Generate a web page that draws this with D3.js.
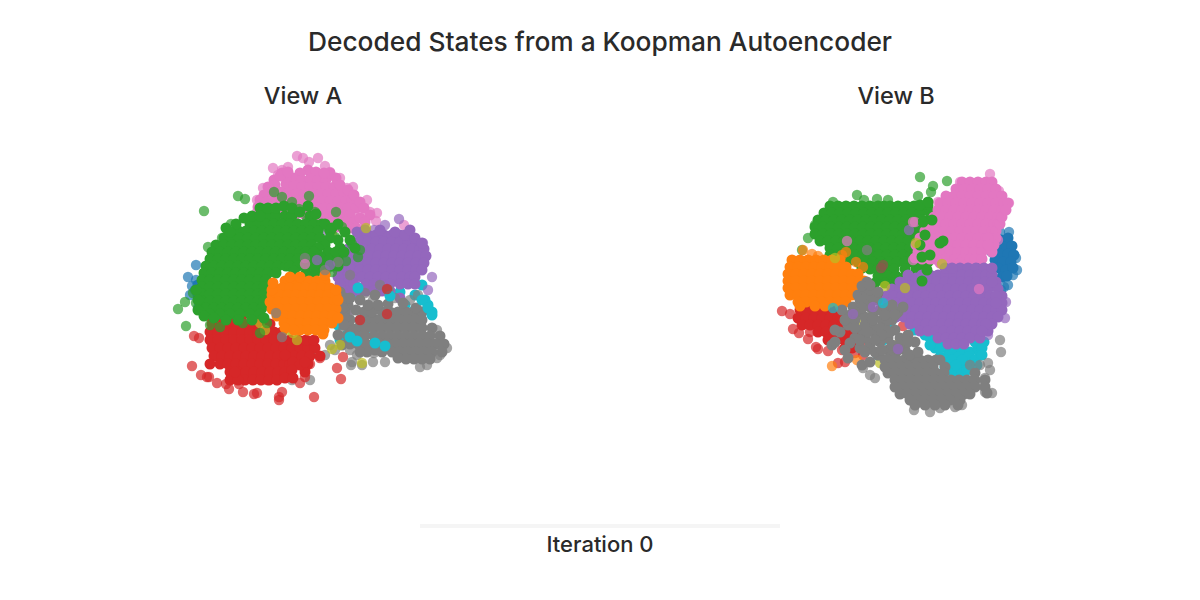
<!DOCTYPE html>
<html>
<head>
<meta charset="utf-8">
<script src="https://cdn.jsdelivr.net/npm/d3@7"></script>
<style>
  html, body { margin: 0; background: #fff; }
  text { font-family: Inter, sans-serif; font-weight: 500; fill: #2a2a2a; text-anchor: middle; }
</style>
</head>
<body>
<svg id="chart" width="1200" height="600"></svg>
<script>
// decoded states, values. "core" = dense part of a cluster, "edge" = loose points
const pinkCoreA = [[148,30],[156,32],[140,33],[133,38],[142,40],[150,39],[158,40],[166,40],[126,44],[134,46],[142,47],[150,47],[158,47],[166,47],[174,47],[120,52],[128,53],[136,54],[144,54],[152,54],[160,54],[168,54],[176,54],[184,54],[114,60],[122,60],[130,60],[138,61],[146,61],[154,61],[162,61],[170,61],[178,61],[186,61],[192,60],[108,67],[116,67],[124,67],[132,68],[140,68],[148,68],[156,68],[164,68],[172,68],[180,68],[188,68],[196,68],[150,75],[158,75],[166,75],[174,75],[182,75],[190,75],[170,82],[178,82],[186,82],[194,82],[174,88],[182,88],[190,88],[122,33],[114,40],[126,37],[115,45],[108,47],[112,52],[104,55],[100,60],[106,62],[98,67],[176,38],[170,33],[120,36],[128,32],[164,33],[180,45],[188,50],[194,55],[200,62],[204,68],[210,75],[200,78],[205,82],[196,88],[104,72],[112,74],[120,74],[128,74],[136,74],[144,74]];
const pinkEdgeA = [[137,16],[143,18],[158,18],[113,28],[118,35],[149,22],[170,32],[193,47],[207,60],[200,67],[210,72],[217,73],[216,81],[244,85],[103,48],[97,60],[97,72],[200,75],[107,55],[187,48],[122,30],[165,26],[180,38],[128,27],[100,66]];
const greenCoreA = [[108,76],[116,76],[125,76],[132,76],[150,76],[90,84],[98,84],[106,84],[114,84],[122,84],[130,84],[138,84],[146,84],[154,84],[162,84],[78,91],[86,91],[94,91],[102,91],[110,91],[118,91],[126,91],[134,91],[142,91],[150,91],[158,91],[170,91],[64,98],[72,98],[80,98],[88,98],[96,98],[104,98],[112,98],[120,98],[128,98],[136,98],[144,98],[152,98],[160,98],[56,105],[64,105],[72,105],[80,105],[88,105],[96,105],[104,105],[112,105],[120,105],[128,105],[136,105],[144,105],[152,105],[52,112],[60,112],[68,112],[76,112],[84,112],[92,112],[100,112],[108,112],[116,112],[124,112],[132,112],[140,112],[50,119],[58,119],[66,119],[74,119],[82,119],[90,119],[98,119],[106,119],[114,119],[122,119],[130,119],[46,126],[54,126],[62,126],[70,126],[78,126],[86,126],[94,126],[102,126],[110,126],[118,126],[126,126],[44,133],[52,133],[60,133],[68,133],[76,133],[84,133],[92,133],[100,133],[108,133],[116,133],[42,140],[50,140],[58,140],[66,140],[74,140],[82,140],[90,140],[98,140],[106,140],[42,147],[50,147],[58,147],[66,147],[74,147],[82,147],[90,147],[98,147],[104,147],[42,154],[50,154],[58,154],[66,154],[74,154],[82,154],[90,154],[98,154],[104,154],[42,161],[50,161],[58,161],[66,161],[74,161],[82,161],[90,161],[98,161],[104,161],[46,168],[54,168],[62,168],[70,168],[78,168],[86,168],[94,168],[102,168],[50,174],[60,174],[70,174],[80,174],[90,174],[100,174],[100,68],[108,68],[116,68],[124,66],[132,68],[140,72],[148,66],[156,74],[92,76],[100,76],[84,78],[76,84],[66,88],[70,92],[165,84],[172,88],[178,84],[185,92],[178,100],[170,98],[165,105],[158,108],[150,112],[190,100],[195,108],[180,108],[168,112],[148,118],[160,116],[36,150],[38,160],[38,170],[44,176],[54,178],[66,180],[78,180],[92,180],[104,178],[130,126],[138,119],[146,112],[154,112],[138,126],[146,126],[154,119],[162,119],[170,119],[162,126],[154,126],[170,126],[178,119],[176,112],[184,112],[134,131],[146,133],[155,133],[165,133],[172,126],[178,126]];
const greenEdgeA = [[78,56],[85,59],[44,71],[71,84],[79,91],[91,86],[48,107],[18,169],[25,162],[26,186],[36,163],[33,153],[114,52],[122,57],[132,62],[149,56],[176,72],[155,72],[139,69],[105,69],[98,77],[147,80],[157,87],[167,87],[182,87],[175,97],[192,104],[200,110],[198,117],[186,121],[172,132],[157,120],[140,117],[62,98],[68,97],[55,115],[50,185],[60,187],[100,193],[107,183],[83,183]];
const blueCoreA = [[38,145],[38,155],[40,165]];
const blueEdgeA = [[36,125],[28,137],[36,140],[32,146],[40,160],[38,168],[30,155],[88,92],[35,150]];
const orangeCoreA = [[125,141],[133,141],[141,141],[149,141],[157,141],[165,141],[114,148],[122,148],[130,148],[138,148],[146,148],[154,148],[162,148],[170,148],[112,155],[120,155],[128,155],[136,155],[144,155],[152,155],[160,155],[168,155],[176,155],[110,162],[118,162],[126,162],[134,162],[142,162],[150,162],[158,162],[166,162],[174,162],[112,169],[120,169],[128,169],[136,169],[144,169],[152,169],[160,169],[168,169],[176,169],[117,176],[125,176],[133,176],[141,176],[149,176],[157,176],[165,176],[173,176],[124,183],[132,183],[140,183],[148,183],[156,183],[164,183],[172,183],[140,190],[148,190],[156,190],[164,190],[112,150],[113,143],[178,160],[176,150],[165,135],[140,137],[130,137],[178,178],[163,194],[125,188],[134,190]];
const purpleCoreA = [[200,95],[208,95],[216,95],[224,95],[232,95],[240,95],[192,102],[200,102],[208,102],[216,102],[224,102],[232,102],[240,102],[248,102],[256,102],[188,109],[196,109],[204,109],[212,109],[220,109],[228,109],[236,109],[244,109],[252,109],[260,109],[264,109],[186,116],[194,116],[202,116],[210,116],[218,116],[226,116],[234,116],[242,116],[250,116],[258,116],[266,116],[184,123],[192,123],[200,123],[208,123],[216,123],[224,123],[232,123],[240,123],[248,123],[256,123],[264,123],[184,130],[192,130],[200,130],[208,130],[216,130],[224,130],[232,130],[240,130],[248,130],[256,130],[262,130],[186,137],[194,137],[202,137],[210,137],[218,137],[226,137],[234,137],[242,137],[250,137],[255,137],[206,144],[214,144],[222,144],[230,144],[190,151],[206,151],[214,151],[230,151],[186,144],[194,144],[240,144],[248,144],[255,144],[186,151],[198,151],[222,151],[240,158],[197,92],[205,90],[235,92],[245,95],[255,98],[262,103],[250,90],[220,90],[178,130],[178,137],[180,144],[182,151],[178,116]];
const purpleEdgeA = [[239,79],[225,85],[250,100],[263,103],[272,137],[268,150],[214,90],[165,90],[190,170],[236,183],[178,125],[172,118]];
const cyanCoreA = [[197,147],[210,148],[230,155],[240,152],[255,155],[265,160],[272,172],[268,165],[262,172],[187,195],[195,200],[215,202],[225,205],[180,200],[178,185],[183,178],[205,195],[255,170],[245,165],[150,215],[198,155],[262,145]];
const grayCoreA = [[222,172],[230,172],[238,172],[246,172],[254,172],[262,172],[200,180],[208,180],[216,180],[224,180],[232,180],[240,180],[248,180],[256,180],[262,180],[190,188],[198,188],[206,188],[214,188],[222,188],[230,188],[238,188],[246,188],[254,188],[262,188],[272,188],[196,196],[214,196],[222,196],[230,196],[238,196],[246,196],[254,196],[262,196],[270,196],[280,196],[220,204],[228,204],[236,204],[244,204],[252,204],[260,204],[268,204],[276,204],[284,204],[232,212],[240,212],[248,212],[256,212],[264,212],[272,212],[282,212],[246,219],[254,219],[262,219],[270,219],[180,170],[188,165],[196,170],[204,172],[212,172],[218,165],[228,164],[243,163],[256,168],[205,196],[188,196],[182,205],[190,204],[198,204],[206,204],[212,205],[238,218],[190,180],[185,172],[180,152],[185,158],[177,165],[185,178],[190,158],[200,160],[208,165],[215,155],[228,150],[178,160],[183,168],[178,175],[184,185],[178,195],[190,195],[215,210],[222,212],[207,212],[200,212]];
const grayEdgeA = [[170,205],[175,210],[190,210],[197,215],[191,225],[213,222],[225,222],[260,227],[214,213],[200,207],[185,160],[190,135],[213,160],[220,145],[205,153],[235,158],[250,160],[258,155],[190,172],[183,190],[165,215],[132,240],[150,240],[130,232],[277,190],[287,208],[280,215],[202,225],[192,222],[267,225],[277,218]];
const redCoreA = [[50,176],[60,176],[70,176],[82,176],[95,176],[52,184],[60,184],[68,184],[76,184],[84,184],[92,184],[100,184],[110,184],[50,192],[58,192],[66,192],[74,192],[82,192],[90,192],[98,192],[106,192],[114,192],[122,192],[50,200],[58,200],[66,200],[74,200],[82,200],[90,200],[98,200],[106,200],[114,200],[122,200],[130,200],[52,208],[60,208],[68,208],[76,208],[84,208],[92,208],[100,208],[108,208],[116,208],[124,208],[132,208],[140,208],[148,208],[155,208],[54,216],[62,216],[70,216],[78,216],[86,216],[94,216],[102,216],[110,216],[118,216],[126,216],[134,216],[142,216],[150,216],[160,216],[60,224],[68,224],[76,224],[84,224],[92,224],[100,224],[108,224],[116,224],[124,224],[130,224],[148,224],[70,232],[78,232],[86,232],[94,232],[102,232],[110,232],[118,232],[125,232],[145,232],[85,240],[93,240],[101,240],[109,240],[117,240],[125,215],[133,222],[140,225],[132,230],[125,238],[145,222],[70,240],[78,240],[133,238],[75,232],[50,224],[138,200],[146,200],[154,200]];
const redEdgeA = [[34,196],[39,198],[32,226],[41,235],[47,237],[49,237],[57,243],[66,244],[69,249],[79,244],[83,252],[94,254],[97,253],[119,257],[119,260],[122,252],[154,257],[140,243],[181,239],[177,228],[183,217],[200,180],[227,149],[227,174],[128,237],[117,240],[145,237],[150,224],[145,230],[160,218],[107,240]];
const oliveEdgeA = [[133,193],[128,190],[172,209],[202,223],[206,88],[172,95],[100,183],[105,190],[180,205],[137,200]];
const straysGrayA = [[122,197],[116,173],[145,118],[165,130],[178,122]];
const straysPinkA = [[145,124]];
const straysPurpleA = [[157,120],[170,125]];
const straysCyanA = [[190,197],[197,201],[215,203],[225,206],[262,160],[268,168],[272,175],[198,148],[230,156]];

const pinkCoreB = [[192,22],[200,22],[208,22],[216,22],[222,22],[186,29],[194,29],[202,29],[210,29],[218,29],[226,29],[176,36],[184,36],[192,36],[200,36],[208,36],[216,36],[224,36],[232,36],[170,43],[178,43],[186,43],[194,43],[202,43],[210,43],[218,43],[226,43],[234,43],[238,43],[168,50],[176,50],[184,50],[192,50],[200,50],[208,50],[216,50],[224,50],[232,50],[164,57],[172,57],[180,57],[188,57],[196,57],[204,57],[212,57],[220,57],[228,57],[160,64],[168,64],[176,64],[184,64],[192,64],[200,64],[208,64],[216,64],[224,64],[228,64],[158,71],[166,71],[174,71],[182,71],[190,71],[198,71],[206,71],[214,71],[222,71],[226,71],[152,78],[160,78],[168,78],[176,78],[184,78],[192,78],[200,78],[208,78],[216,78],[226,78],[148,85],[156,85],[164,85],[172,85],[180,85],[188,85],[196,85],[204,85],[212,85],[224,85],[156,92],[164,92],[172,92],[180,92],[188,92],[196,92],[204,92],[212,92],[222,92],[165,99],[175,99],[185,99],[193,99],[200,99],[158,64],[155,71],[150,78],[146,85],[148,92],[152,99],[145,98],[205,99],[212,99],[230,64],[232,57],[236,50],[160,99],[170,103],[180,105],[190,103],[218,78],[218,85]];
const pinkEdgeB = [[220,14],[229,31],[239,43],[233,45],[190,22],[150,82],[143,100],[145,62],[168,42],[228,80]];
const greenCoreB = [[60,46],[68,46],[76,46],[84,46],[92,46],[100,46],[108,46],[114,46],[120,46],[128,46],[136,46],[144,46],[152,46],[158,46],[54,53],[62,53],[70,53],[78,53],[86,53],[94,53],[102,53],[110,53],[118,53],[126,53],[134,53],[142,53],[150,53],[160,53],[48,60],[56,60],[64,60],[72,60],[80,60],[88,60],[96,60],[104,60],[112,60],[120,60],[128,60],[136,60],[144,60],[152,60],[160,60],[45,67],[53,67],[61,67],[69,67],[77,67],[85,67],[93,67],[101,67],[109,67],[117,67],[125,67],[133,67],[141,67],[149,67],[157,67],[45,74],[53,74],[61,74],[69,74],[77,74],[85,74],[93,74],[101,74],[109,74],[117,74],[125,74],[133,74],[141,74],[149,74],[155,74],[50,81],[58,81],[66,81],[74,81],[82,81],[90,81],[98,81],[106,81],[114,81],[122,81],[130,81],[138,81],[146,81],[156,81],[60,88],[68,88],[76,88],[84,88],[92,88],[100,88],[108,88],[116,88],[124,88],[132,88],[140,88],[150,88],[160,88],[60,95],[68,95],[76,95],[85,95],[93,95],[101,95],[109,95],[117,95],[125,95],[133,95],[141,95],[147,95],[155,95],[80,100],[88,102],[95,102],[103,102],[111,102],[119,102],[127,102],[135,102],[142,102],[150,102],[158,102],[92,108],[100,109],[108,109],[116,109],[124,109],[135,109],[146,109],[150,109],[108,116],[110,116],[118,116],[126,116],[135,116],[140,116],[115,123],[125,123],[135,120],[105,123],[145,118]];
const greenEdgeB = [[150,17],[163,26],[177,21],[161,32],[148,36],[87,35],[63,42],[107,39],[118,40],[94,40],[38,78],[32,90],[45,65]];
const greenTopB = [[162,60],[153,62],[173,81],[152,97],[157,110],[152,121],[170,83],[155,75],[150,85],[160,95],[150,45],[158,42]];
const orangeCoreB = [[22,100],[30,100],[38,100],[46,100],[54,100],[62,100],[70,100],[20,107],[28,107],[36,107],[44,107],[52,107],[60,107],[68,107],[76,107],[18,114],[26,114],[34,114],[42,114],[50,114],[58,114],[66,114],[74,114],[82,114],[88,114],[18,121],[26,121],[34,121],[42,121],[50,121],[58,121],[66,121],[74,121],[82,121],[90,121],[94,121],[18,128],[26,128],[34,128],[42,128],[50,128],[58,128],[66,128],[74,128],[82,128],[90,128],[20,135],[28,135],[36,135],[44,135],[52,135],[60,135],[68,135],[76,135],[82,135],[28,142],[36,142],[44,142],[52,142],[60,142],[68,142],[76,142],[30,146],[45,146],[55,146]];
const orangeEdgeB = [[33,90],[42,94],[48,96],[76,92],[72,95],[86,102],[93,107],[70,146],[62,206],[87,200]];
const redCoreB = [[30,150],[38,150],[46,150],[54,150],[62,150],[70,150],[28,158],[36,158],[44,158],[52,158],[60,158],[68,158],[75,158],[32,165],[40,165],[48,165],[56,165],[64,165],[72,165],[80,165],[48,172],[56,172],[64,172],[72,172],[80,172],[85,172],[58,180],[66,180],[74,180],[82,180],[90,180],[90,172],[75,188],[82,188],[95,170]];
const redEdgeB = [[12,151],[20,154],[23,169],[29,173],[38,179],[46,187],[48,189],[58,191],[68,203],[72,190],[85,193],[93,195],[93,185],[133,166],[75,202],[40,172]];
const blueCoreB = [[231,80],[238,78],[226,86],[234,87],[242,86],[222,92],[230,94],[238,94],[244,95],[225,100],[233,102],[241,102],[228,108],[236,110],[243,108],[232,117],[237,116],[210,103]];
const blueEdgeB = [[239,72],[230,72],[246,98],[247,110],[238,125],[234,127],[243,115],[231,130]];
const purpleCoreB = [[190,108],[198,108],[206,108],[214,108],[160,115],[168,115],[176,115],[184,115],[192,115],[200,115],[208,115],[216,115],[222,115],[135,122],[143,122],[151,122],[159,122],[167,122],[175,122],[183,122],[191,122],[199,122],[207,122],[215,122],[226,122],[122,129],[130,129],[138,129],[146,129],[154,129],[162,129],[170,129],[178,129],[186,129],[194,129],[202,129],[210,129],[218,129],[228,129],[116,136],[124,136],[132,136],[140,136],[148,136],[156,136],[164,136],[172,136],[180,136],[188,136],[196,136],[204,136],[212,136],[220,136],[232,136],[118,143],[126,143],[134,143],[142,143],[150,143],[158,143],[166,143],[174,143],[182,143],[190,143],[198,143],[206,143],[214,143],[222,143],[232,143],[122,150],[130,150],[138,150],[146,150],[154,150],[162,150],[170,150],[178,150],[186,150],[194,150],[202,150],[210,150],[218,150],[226,150],[232,150],[126,157],[134,157],[142,157],[150,157],[158,157],[166,157],[174,157],[182,157],[190,157],[198,157],[206,157],[214,157],[222,157],[228,157],[140,164],[148,164],[156,164],[164,164],[172,164],[180,164],[188,164],[196,164],[204,164],[212,164],[222,164],[150,171],[158,171],[166,171],[174,171],[182,171],[190,171],[198,171],[206,171],[218,171],[168,178],[176,178],[184,178],[192,178],[200,178],[210,178],[178,184],[186,184],[194,184],[130,122],[138,115],[146,118],[152,115],[175,108],[182,108],[222,108],[226,136],[226,143],[222,122],[216,164],[212,171]];
const purpleEdgeB = [[235,158],[218,175],[236,142]];
const cyanCoreB = [[160,178],[168,180],[176,188],[184,192],[192,192],[200,192],[208,188],[214,182],[210,195],[200,200],[190,203],[180,205],[170,197],[165,188],[178,196],[188,197],[198,197],[205,200],[185,210],[195,205],[155,175],[175,207],[183,212],[192,212],[200,208],[115,143],[62,147],[85,150],[108,195],[113,180],[80,157],[145,170],[120,165],[170,188],[175,180],[160,185],[205,182],[212,188],[212,195],[207,205],[176,200],[182,200],[192,200],[186,205],[197,210]];
const grayCoreB = [[88,135],[95,130],[90,140],[83,147],[95,140],[102,137],[100,147],[90,152],[80,155],[72,150],[78,165],[85,160],[95,157],[103,155],[110,150],[117,148],[122,145],[107,140],[112,160],[102,165],[92,170],[85,178],[95,178],[105,172],[115,168],[122,160],[128,152],[133,147],[125,170],[118,178],[110,182],[100,185],[90,188],[80,183],[70,172],[65,170],[62,185],[75,190],[65,182],[78,198],[92,205],[100,202],[108,195],[118,190],[130,178],[138,175],[145,182],[135,190],[125,195],[115,200],[118,200],[126,200],[134,200],[142,200],[150,200],[158,200],[166,200],[170,200],[115,207],[123,207],[131,207],[139,207],[147,207],[155,207],[163,207],[175,207],[118,213],[126,213],[134,213],[142,213],[150,213],[158,213],[166,213],[174,213],[205,213],[125,220],[133,220],[141,220],[149,220],[157,220],[165,220],[173,220],[181,220],[189,220],[197,220],[205,220],[215,220],[125,227],[133,227],[141,227],[149,227],[157,227],[165,227],[173,227],[181,227],[189,227],[197,227],[205,227],[215,227],[130,234],[138,234],[146,234],[154,234],[162,234],[170,234],[178,234],[186,234],[194,234],[200,234],[217,233],[140,240],[148,240],[156,240],[164,240],[172,240],[180,240],[190,240],[145,245],[155,245],[165,245],[175,245],[188,245],[100,130],[108,132],[92,148],[85,152],[75,160],[85,168],[95,165],[103,160],[110,168],[118,160],[125,155],[115,155],[120,172],[112,175],[105,180],[98,172],[90,180],[95,192],[105,192],[112,190],[122,185],[130,185],[138,182],[128,190],[140,195],[148,192],[97,122],[92,126],[100,125]];
const grayEdgeB = [[200,205],[210,205],[218,203],[220,210],[215,218],[210,225],[222,233],[215,232],[230,180],[231,192],[170,248],[144,250],[160,252],[185,247],[192,245],[97,90],[105,218],[93,208],[100,215]];
const oliveEdgeB = [[172,104],[115,126],[75,160],[88,162],[129,183],[110,203],[65,98],[146,83],[135,128]];
const brownEdgeB = [[113,105],[111,108],[108,133]];
const straysPurpleB = [[83,154],[103,147],[139,70],[128,189]];
const straysCyanB = [[113,143],[63,148]];
const straysPinkB = [[77,81],[209,129],[143,62]];

const clusterColors = { blue: "#1f77b4", orange: "#ff7f0e", green: "#2ca02c", red: "#d62728", purple: "#9467bd", brown: "#8c564b", pink: "#e377c2", gray: "#7f7f7f", olive: "#bcbd22", cyan: "#17becf" };

// draw order per view: [color, edge points, core points]
const layersA = [
  ["blue", blueEdgeA, blueCoreA],
  ["pink", pinkEdgeA, pinkCoreA],
  ["cyan", [], cyanCoreA],
  ["purple", purpleEdgeA, purpleCoreA],
  ["gray", grayEdgeA, grayCoreA],
  ["cyan", [], straysCyanA],
  ["red", redEdgeA, redCoreA],
  ["olive", oliveEdgeA, []],
  ["green", greenEdgeA, greenCoreA],
  ["orange", [], orangeCoreA],
  ["gray", straysGrayA, []],
  ["pink", straysPinkA, []],
  ["purple", straysPurpleA, []],
];
const layersB = [
  ["blue", blueEdgeB, blueCoreB],
  ["cyan", [], cyanCoreB],
  ["red", redEdgeB, redCoreB],
  ["green", greenEdgeB, greenCoreB],
  ["pink", pinkEdgeB, pinkCoreB],
  ["purple", purpleEdgeB, purpleCoreB],
  ["green", [], greenTopB],
  ["orange", orangeEdgeB, orangeCoreB],
  ["olive", oliveEdgeB, []],
  ["brown", brownEdgeB, []],
  ["gray", grayEdgeB, grayCoreB],
  ["cyan", straysCyanB, []],
  ["purple", straysPurpleB, []],
  ["pink", straysPinkB, []],
];

const svg = d3.select("#chart");

function drawView(layers, xScale, yScale) {
  const g = svg.append("g");
  layers.forEach(([color, edge, core]) => {
    const layer = g.append("g").attr("fill", clusterColors[color]);
    layer.selectAll(".edge").data(edge).join("circle")
      .attr("class", "edge")
      .attr("cx", (d) => xScale(d[0]))
      .attr("cy", (d) => yScale(d[1]))
      .attr("r", 5.2)
      .attr("opacity", 0.7);
    layer.selectAll(".core").data(core).join("circle")
      .attr("class", "core")
      .attr("cx", (d) => xScale(d[0]))
      .attr("cy", (d) => yScale(d[1]))
      .attr("r", 5.5);
  });
}

drawView(layersA, d3.scaleLinear([0, 300], [160, 460]), d3.scaleLinear([0, 280], [140, 420]));
drawView(layersB, d3.scaleLinear([0, 260], [770, 1030]), d3.scaleLinear([0, 260], [160, 420]));

// titles
svg.append("text").attr("x", 600).attr("y", 51).attr("font-size", 26.3).text("Decoded States from a Koopman Autoencoder");
svg.append("text").attr("x", 303).attr("y", 104).attr("font-size", 23.5).text("View A");
svg.append("text").attr("x", 896).attr("y", 104).attr("font-size", 23.5).text("View B");

// slider track
svg.append("rect").attr("x", 420).attr("y", 524).attr("width", 360).attr("height", 4).attr("fill", "#f5f5f5");
svg.append("text").attr("x", 600).attr("y", 552).attr("font-size", 22).text("Iteration 0");
</script>
</body>
</html>
